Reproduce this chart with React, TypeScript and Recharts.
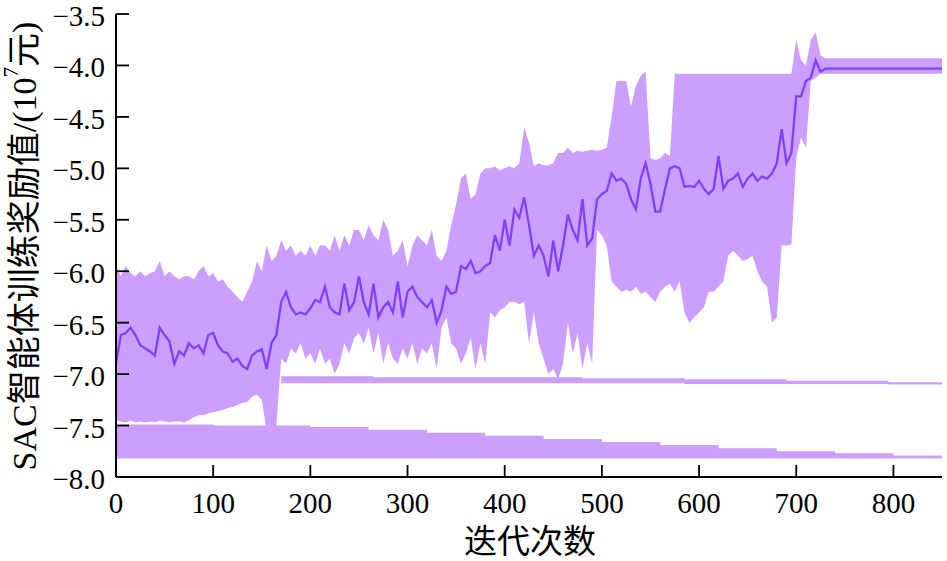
import React from 'react';
import { ComposedChart, Area, Line, XAxis, YAxis } from 'recharts';

// iteration index of each sample (every 5 iterations)
const ITER_STEP = 5;

const meanReward = [
  -6.9, -6.62, -6.6, -6.55, -6.62, -6.72, -6.75, -6.78, -6.82, -6.55,
  -6.62, -6.68, -6.9, -6.78, -6.82, -6.7, -6.75, -6.72, -6.8, -6.62,
  -6.6, -6.72, -6.78, -6.8, -6.88, -6.85, -6.92, -6.95, -6.82, -6.78,
  -6.76, -6.95, -6.7, -6.62, -6.3, -6.2, -6.35, -6.42, -6.4, -6.42,
  -6.36, -6.28, -6.3, -6.15, -6.35, -6.4, -6.42, -6.12, -6.38, -6.3,
  -6.05, -6.3, -6.42, -6.12, -6.45, -6.35, -6.3, -6.4, -6.1, -6.45,
  -6.2, -6.15, -6.25, -6.3, -6.35, -6.28, -6.5, -6.38, -6.15, -6.22,
  -6.2, -5.95, -5.98, -5.9, -6.02, -6.0, -5.95, -5.92, -5.65, -5.8,
  -5.5, -5.75, -5.4, -5.48, -5.28, -5.55, -5.85, -5.75, -5.85, -6.05,
  -5.7, -6.0, -5.75, -5.45, -5.6, -5.7, -5.3, -5.75, -5.68, -5.3,
  -5.25, -5.22, -5.05, -5.12, -5.1, -5.15, -5.3, -5.4, -5.1, -4.95,
  -5.15, -5.42, -5.42, -5.2, -5.0, -4.98, -5.0, -5.18, -5.17, -5.18,
  -5.12, -5.2, -5.25, -5.2, -4.88, -5.2, -5.12, -5.1, -5.05, -5.18,
  -5.1, -5.05, -5.12, -5.08, -5.1, -5.05, -4.95, -4.62, -4.95, -4.85,
  -4.3, -4.3, -4.15, -4.12, -3.95, -4.06, -4.03, -4.03, -4.03, -4.03,
  -4.03, -4.03, -4.03, -4.03, -4.03, -4.03, -4.03, -4.03, -4.03, -4.03,
  -4.03, -4.03, -4.03, -4.03, -4.03, -4.03, -4.03, -4.03, -4.03, -4.03,
  -4.03,
];

const upperReward = [
  -5.95, -6.05, -5.95, -6.02, -6.05, -6.0, -6.05, -6.02, -6.0, -5.9,
  -6.05, -6.0, -6.05, -6.08, -6.05, -6.05, -6.08, -6.0, -5.95, -6.05,
  -6.02, -6.1, -6.08, -6.15, -6.2, -6.25, -6.3, -6.2, -6.1, -5.9,
  -6.0, -5.75, -5.9, -5.85, -5.7, -5.8, -5.75, -5.85, -5.8, -5.85,
  -5.75, -5.85, -5.75, -5.75, -5.8, -5.65, -5.8, -5.65, -5.75, -5.6,
  -5.6, -5.7, -5.55, -5.65, -5.7, -5.5, -5.6, -5.85, -5.8, -5.7,
  -5.95, -5.75, -5.65, -5.7, -5.75, -5.6, -5.85, -5.9, -5.8, -5.55,
  -5.35, -5.1, -5.05, -5.3, -5.25, -5.05, -5.0, -5.0, -4.98, -5.02,
  -5.0, -4.98, -5.0, -4.95, -4.6, -4.75, -4.98, -4.95, -4.97, -4.97,
  -4.95, -4.85, -4.85, -4.8, -4.85, -4.83, -4.84, -4.83, -4.82, -4.83,
  -4.82, -4.8, -4.5, -4.15, -4.15, -4.15, -4.4, -4.2, -4.1, -4.06,
  -4.9, -4.92, -4.9, -4.85, -4.88, -4.08, -4.08, -4.08, -4.08, -4.08,
  -4.08, -4.08, -4.08, -4.08, -4.08, -4.08, -4.08, -4.08, -4.08, -4.08,
  -4.08, -4.08, -4.08, -4.08, -4.08, -4.08, -4.08, -4.08, -4.08, -4.08,
  -3.75, -3.95, -4.0, -3.75, -3.68, -3.9, -3.93, -3.93, -3.93, -3.93,
  -3.93, -3.93, -3.93, -3.93, -3.93, -3.93, -3.93, -3.93, -3.93, -3.93,
  -3.93, -3.93, -3.93, -3.93, -3.93, -3.93, -3.93, -3.93, -3.93, -3.93,
  -3.93,
];

const lowerReward = [
  -7.45, -7.46, -7.47, -7.45, -7.47, -7.46, -7.47, -7.46, -7.47, -7.45,
  -7.46, -7.47, -7.46, -7.46, -7.47, -7.45, -7.42, -7.4, -7.4, -7.38,
  -7.37, -7.36, -7.35, -7.33, -7.32, -7.3, -7.28, -7.27, -7.22, -7.2,
  -7.25, -7.55, -7.65, -7.5, -6.85, -6.9, -6.75, -6.8, -6.7, -6.85,
  -6.8, -6.9, -6.75, -6.9, -6.85, -7.0, -6.9, -6.7, -6.8, -6.65,
  -6.6, -6.7, -6.55, -6.8, -6.6, -6.9, -6.7, -6.85, -6.9, -6.75,
  -6.85, -6.7, -6.9, -6.75, -6.8, -6.7, -6.95, -6.55, -6.45, -6.7,
  -6.75, -6.9, -6.8, -6.65, -6.95, -6.7, -6.9, -6.4, -6.45, -6.38,
  -6.35, -6.3, -6.3, -6.32, -6.3, -6.7, -6.4, -6.7, -6.85, -7.0,
  -6.95, -7.05, -6.9, -6.5, -6.8, -6.6, -6.95, -6.7, -6.9, -5.6,
  -5.65, -5.75, -6.1, -6.15, -6.2, -6.18, -6.2, -6.15, -6.22, -6.2,
  -6.25, -6.3, -6.2, -6.15, -6.12, -6.2, -6.1, -6.4, -6.5, -6.45,
  -6.4, -6.35, -6.2, -6.2, -6.15, -6.1, -5.85, -5.8, -5.85, -5.9,
  -5.88, -5.85, -6.0, -6.1, -6.15, -6.5, -6.45, -5.75, -5.75, -5.74,
  -4.9, -4.7, -4.8, -4.15, -4.12, -4.08, -4.08, -4.08, -4.08, -4.08,
  -4.08, -4.08, -4.08, -4.08, -4.08, -4.08, -4.08, -4.08, -4.08, -4.08,
  -4.08, -4.08, -4.08, -4.08, -4.08, -4.08, -4.08, -4.08, -4.08, -4.08,
  -4.08,
];

// thin fill artefact near -7.05 (iteration, bottom, top)
const stripAIter = [170, 265, 480, 585, 690, 795, 850];
const stripABottom = [-7.09, -7.09, -7.09, -7.095, -7.095, -7.1, -7.1];
const stripATop = [-7.02, -7.03, -7.04, -7.05, -7.065, -7.08, -7.09];

// wedge-shaped fill artefact at the bottom
const stripBIter = [0, 100, 200, 260, 320, 380, 440, 500, 560, 620, 680, 740, 800, 850];
const stripBTop = [-7.49, -7.5, -7.515, -7.54, -7.57, -7.6, -7.63, -7.66, -7.69, -7.72, -7.75, -7.77, -7.79, -7.81];
const stripBBottom = -7.82;

const xTicks = [0, 100, 200, 300, 400, 500, 600, 700, 800];
const yTicks = [-8.0, -7.5, -7.0, -6.5, -6.0, -5.5, -5.0, -4.5, -4.0, -3.5];

const mainData = meanReward.map((m, i) => ({
  x: i * ITER_STEP,
  mean: m,
  band: [lowerReward[i], upperReward[i]],
}));
const stripAData = stripAIter.map((x, i) => ({ x, band: [stripABottom[i], stripATop[i]] }));
const stripBData = stripBIter.map((x, i) => ({ x, band: [stripBBottom, stripBTop[i]] }));

const FILL = '#cc9fff';
const LINE = '#8040ff';
const SERIF = "'Liberation Serif', 'Times New Roman', 'Noto Sans CJK SC', serif";

const fmt = (v: number) => v.toFixed(1).replace('-', '\u2212');

const YTick = (props: any) => {
  const { x, y, payload } = props;
  return (
    <g>
      <line x1={x} x2={x + 13} y1={y} y2={y} stroke="#000" strokeWidth={1.8} />
      <text x={x - 11} y={y} dy={12} textAnchor="end" fontSize={29} fontFamily={SERIF} fill="#000">
        {fmt(payload.value)}
      </text>
    </g>
  );
};

const XTick = (props: any) => {
  const { x, y, payload } = props;
  return (
    <g>
      <line x1={x} x2={x} y1={y} y2={y - 12} stroke="#000" strokeWidth={1.8} />
      <text x={x} y={y} dy={36} textAnchor="middle" fontSize={29} fontFamily={SERIF} fill="#000">
        {payload.value}
      </text>
    </g>
  );
};

const YLabel = () => (
  <text
    x={24}
    y={246}
    transform="rotate(-90, 24, 246)"
    textAnchor="middle"
    dominantBaseline="central"
    fontSize={34}
    fontFamily={SERIF}
    fill="#000"
  >
    SAC智能体训练奖励值/(10<tspan dy={-13} fontSize={21}>7</tspan>
    <tspan dy={13}>元)</tspan>
  </text>
);

const XLabel = () => (
  <text x={530} y={553} textAnchor="middle" fontSize={33} fontFamily={SERIF} fill="#000">
    迭代次数
  </text>
);

export default function App() {
  return (
    <div style={{ position: 'absolute', left: 0, top: 0, width: 947, height: 561, background: '#fff' }}>
      <ComposedChart width={947} height={561} margin={{ top: 14, right: 5, bottom: 0, left: 0 }}>
        <XAxis
          dataKey="x"
          type="number"
          domain={[0, 850]}
          ticks={xTicks}
          allowDataOverflow
          height={84}
          tickSize={0}
          tickMargin={0}
          tickLine={false}
          tick={<XTick />}
          axisLine={{ stroke: '#000', strokeWidth: 2 }}
          label={<XLabel />}
        />
        <XAxis
          xAxisId="top"
          orientation="top"
          dataKey="x"
          type="number"
          domain={[0, 850]}
          height={0}
          tick={false}
          tickLine={false}
          axisLine={{ stroke: '#000', strokeWidth: 2 }}
        />
        <YAxis
          type="number"
          domain={[-8, -3.5]}
          ticks={yTicks}
          allowDataOverflow
          width={116}
          tickSize={0}
          tickMargin={0}
          tickLine={false}
          tick={<YTick />}
          axisLine={{ stroke: '#000', strokeWidth: 2 }}
          label={<YLabel />}
        />
        <YAxis
          yAxisId="right"
          orientation="right"
          type="number"
          domain={[-8, -3.5]}
          width={0}
          tick={false}
          tickLine={false}
          axisLine={{ stroke: '#000', strokeWidth: 2 }}
        />
        <Area
          data={mainData}
          dataKey="band"
          type="linear"
          stroke="none"
          fill={FILL}
          fillOpacity={1}
          isAnimationActive={false}
          activeDot={false}
        />
        <Area
          data={stripAData}
          dataKey="band"
          type="stepAfter"
          stroke="none"
          fill={FILL}
          fillOpacity={1}
          isAnimationActive={false}
          activeDot={false}
        />
        <Area
          data={stripBData}
          dataKey="band"
          type="stepAfter"
          stroke="none"
          fill={FILL}
          fillOpacity={1}
          isAnimationActive={false}
          activeDot={false}
        />
        <Line
          data={mainData}
          dataKey="mean"
          type="linear"
          stroke={LINE}
          strokeWidth={2.3}
          dot={false}
          activeDot={false}
          isAnimationActive={false}
        />
      </ComposedChart>
    </div>
  );
}
